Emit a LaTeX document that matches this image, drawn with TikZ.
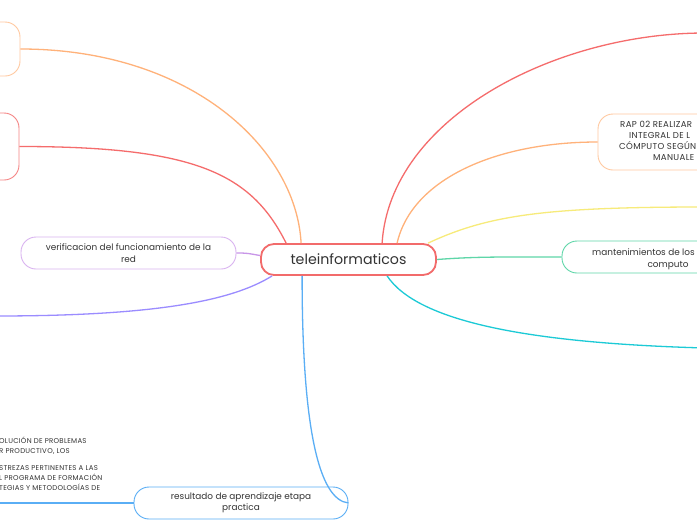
\documentclass[tikz,border=0pt]{standalone}
\usepackage{fontspec}
\setmainfont{Poppins}
\usetikzlibrary{calc}
\definecolor{txt}{HTML}{333333}
\definecolor{cRed}{HTML}{F26B6B}
\definecolor{orLine}{HTML}{FFB27A}
\definecolor{orBox}{HTML}{FFC9A0}
\definecolor{rdLine}{HTML}{F56C6C}
\definecolor{rdBox}{HTML}{F58585}
\definecolor{puBox}{HTML}{D9B3F0}
\definecolor{puLine}{HTML}{C896E8}
\definecolor{lvLine}{HTML}{9B8CFF}
\definecolor{blLine}{HTML}{5AAEF5}
\definecolor{yeLine}{HTML}{F7EB7A}
\definecolor{grLine}{HTML}{5ED6A8}
\definecolor{cyLine}{HTML}{1CCAD6}
\tikzset{
  conn/.style={line width=1.3pt},
  child/.style={draw, line width=0.9pt, rounded corners=15pt, text=txt,
    font=\fontsize{8.9}{11.5}\selectfont, align=center, inner sep=0pt},
  frag/.style={text=txt, inner sep=0pt, anchor=base west},
  caps/.style={frag, font=\fontsize{7}{8}\selectfont\addfontfeatures{LetterSpace=4}},
  capsb/.style={frag, font=\fontsize{8.6}{10}\selectfont\addfontfeatures{LetterSpace=4}},
}
\begin{document}
\begin{tikzpicture}[x=1pt,y=-1pt]
\useasboundingbox (0,0) rectangle (697,520);
\clip (0,0) rectangle (697,520);
\fill[white] (0,0) rectangle (697,520);

% central node
\node[draw=cRed, line width=1.8pt, rounded corners=13pt, minimum width=175pt,
  minimum height=31pt, text=txt, font=\fontsize{14.2}{16}\selectfont, inner sep=0pt]
  (c) at (348.5,259.5) {teleinformaticos};

% children
\node[child, draw=orBox, minimum width=120pt, minimum height=54pt] (tl) at (-40,49) {};
\node[child, draw=rdBox, minimum width=120pt, minimum height=67pt] (rl) at (-41,146.5) {};
\node[child, draw=puBox, minimum width=215pt, minimum height=32pt] (pv) at (128.5,253)
  {verificacion del funcionamiento de la\\red};
\node[child, draw=blLine, minimum width=214pt, minimum height=32pt] (b) at (241,503)
  {resultado de aprendizaje etapa\\practica};
\node[child, draw=orBox, minimum width=202pt, minimum height=56pt] (rap) at (699,142) {};
\node[child, draw=grLine, minimum width=238pt, minimum height=32pt] (gr) at (681,257) {};

% fragments of clipped texts
\node[capsb] (r1t) at (620,127.5) {RAP 02 REALIZAR};
\node[capsb] (r2t) at (629,138.5) {INTEGRAL DE L};
\node[capsb] (r3t) at (619,149.5) {CÓMPUTO SEGÚN};
\node[capsb] (r4t) at (653,160.5) {MANUALE};
\node[frag, font=\fontsize{8.9}{11}\selectfont] (g1t) at (592,255) {mantenimientos de los e};
\node[frag, font=\fontsize{8.9}{11}\selectfont, anchor=base] (g2t) at (668,267) {computo};

\node[caps] (b1t) at (-1,443.5) {OLUCIÓN DE PROBLEMAS};
\node[caps] (b2t) at (-1,453.5) {R PRODUCTIVO, LOS};
\node[caps] (b3t) at (-1,470.5) {STREZAS PERTINENTES A LAS};
\node[caps] (b4t) at (-1,480.5) {L PROGRAMA DE FORMACIÓN};
\node[caps] (b5t) at (-1,490.5) {TEGIAS Y METODOLOGÍAS DE};

% free ends
\coordinate (lvEnd) at (-5,316);
\coordinate (blEnd) at (-5,503);
\coordinate (rdEnd) at (705,33);
\coordinate (yeEnd) at (705,207);
\coordinate (cyEnd) at (705,348);

% connectors
\draw[conn, orLine] (tl.east) .. controls +(170,0) and +(-5,-95) .. ($(c.north west)+(41,0)$);
\draw[conn, rdLine] (rl.east) .. controls +(175,0) and +(-35,-70) .. ($(c.north west)+(26,0)$);
\draw[conn, puLine] (pv.east) .. controls +(12,0) and +(-12,-2) .. ($(c.west)+(0,-4)$);
\draw[conn, lvLine] ($(c.south west)+(12,0)$) .. controls +(-40,25) and +(160,0) .. (lvEnd);
\draw[conn, blLine] ($(c.south west)+(42,0)$) .. controls +(0,150) and +(-30,-3) .. (b.east);
\draw[conn, blLine] (b.west) -- (blEnd);
\draw[conn, rdLine] ($(c.north west)+(122,0)$) .. controls +(8,-125) and +(-150,0) .. (rdEnd);
\draw[conn, orLine] ($(c.north west)+(137,0)$) .. controls +(15,-65) and +(-100,0) .. (rap.west);
\draw[conn, yeLine] ($(c.north west)+(168,0)$) .. controls +(60,-28) and +(-160,0) .. (yeEnd);
\draw[conn, grLine] (c.east) .. controls +(40,-3) and +(-60,0) .. (gr.west);
\draw[conn, cyLine] ($(c.south west)+(127,0)$) .. controls +(30,45) and +(-180,-5) .. (cyEnd);
\end{tikzpicture}
\end{document}
